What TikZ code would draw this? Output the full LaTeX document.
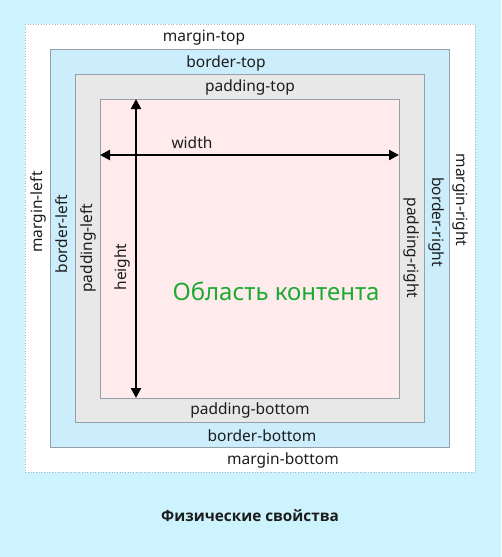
\documentclass[tikz,border=0pt]{standalone}
\usepackage{fontspec}
\setmainfont{Noto Sans}
\newfontfamily\titlefont{Open Sans}
\usetikzlibrary{arrows.meta}
\definecolor{bgc}{RGB}{204,243,254}
\definecolor{borderc}{RGB}{204,237,252}
\definecolor{padc}{RGB}{232,232,232}
\definecolor{contc}{RGB}{255,235,235}
\definecolor{edgec}{RGB}{150,160,168}
\definecolor{txtc}{RGB}{28,28,28}
\definecolor{greenc}{RGB}{30,170,50}
\tikzset{
  lbl/.style={font=\fontsize{15.5}{18}\selectfont, text=txtc, inner sep=0pt},
  boxline/.style={draw=edgec, line width=0.8pt},
  dim/.style={line width=2.2pt, {Triangle[length=10pt,width=10pt]}-{Triangle[length=10pt,width=10pt]}}
}
\begin{document}
\begin{tikzpicture}[x=1pt,y=-1pt]
\useasboundingbox (0,0) rectangle (501,557);
\fill[bgc] (0,0) rectangle (501,557);
% margin box
\draw[fill=white, draw=edgec!80, dotted, line width=0.7pt] (25,24) rectangle (475,472);
% border box
\draw[boxline, fill=borderc] (50,49) rectangle (449,447);
% padding box
\draw[boxline, fill=padc] (75,74) rectangle (424,422);
% content box
\draw[boxline, fill=contc] (100,99) rectangle (399,398);
\node[coordinate] (cl) at (100,155) {};
\node[coordinate] (cr) at (399,155) {};
\node[coordinate] (ct) at (136,99) {};
\node[coordinate] (cb) at (136,398) {};
\draw[dim] (cl) -- (cr);
\draw[dim] (ct) -- (cb);
% labels
\node[lbl] (mt) at (204,38) {margin-top};
\node[lbl] (bt) at (226,63) {border-top};
\node[lbl] (pt) at (250,87) {padding-top};
\node[lbl] (w) at (192,143) {width};
\node[lbl, rotate=90] (h) at (122,267) {height};
\node[lbl] (pb) at (250,410) {padding-bottom};
\node[lbl] (bb) at (262,436) {border-bottom};
\node[lbl] (mb) at (283,460) {margin-bottom};
\node[lbl, rotate=90] (ml) at (38,212) {margin-left};
\node[lbl, rotate=90] (bl) at (62,234) {border-left};
\node[lbl, rotate=90] (pl) at (88,248) {padding-left};
\node[lbl, rotate=-90] (mr) at (461,200) {margin-right};
\node[lbl, rotate=-90] (br) at (437,222) {border-right};
\node[lbl, rotate=-90] (pr) at (412,248) {padding-right};
\node[font=\fontsize{24}{28}\selectfont, text=greenc, inner sep=0pt] (ca) at (276,291) {Область контента};
\node[font=\titlefont\bfseries\fontsize{15.3}{18}\selectfont, text=txtc, inner sep=0pt] (title) at (250,516) {Физические свойства};
\end{tikzpicture}
\end{document}
